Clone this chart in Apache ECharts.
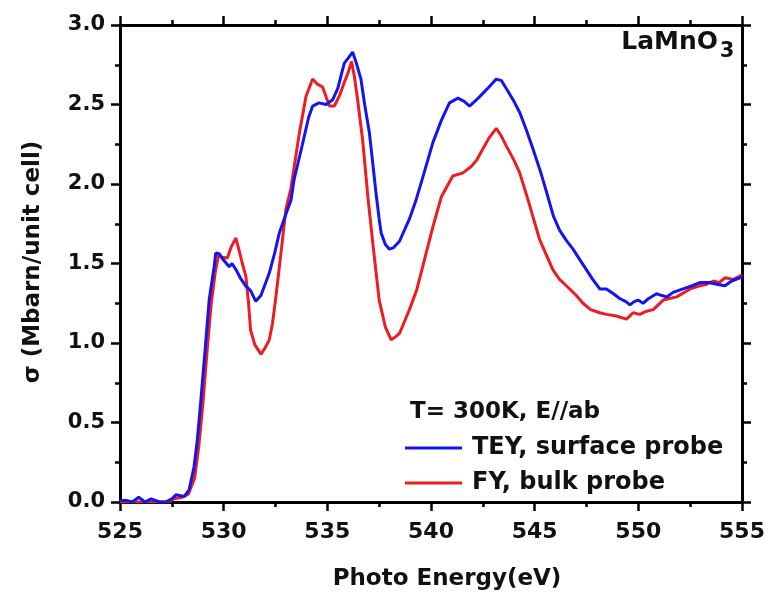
<!DOCTYPE html>
<html>
<head>
<meta charset="utf-8">
<script src="https://cdn.jsdelivr.net/npm/echarts@6/dist/echarts.min.js"></script>
<style>html,body{margin:0;padding:0;background:#fff}#c{width:768px;height:599px}</style>
</head>
<body>
<div id="c"></div>
<script>
const xTicks = [525, 530, 535, 540, 545, 550, 555];
const yTicks = ['0.0', '0.5', '1.0', '1.5', '2.0', '2.5', '3.0'];
const seriesNames = ['TEY, surface probe', 'FY, bulk probe'];

const teyX = [525.0,525.3,525.6,525.9,526.2,526.5,526.9,527.2,527.5,527.7,528.1,528.33,528.57,528.73,528.9,529.1,529.3,529.54,529.62,529.8,530.0,530.27,530.4,530.6,530.8,531.07,531.3,531.55,531.8,532.0,532.2,532.45,532.68,533.0,533.25,533.4,533.8,534.1,534.29,534.6,534.94,535.26,535.5,535.7,535.82,536.0,536.22,536.4,536.62,536.8,537.03,537.2,537.35,537.5,537.6,537.8,538.0,538.2,538.48,538.96,539.28,539.6,540.09,540.5,540.89,541.3,541.6,541.86,542.2,542.5,542.8,543.15,543.4,543.63,544.0,544.28,544.6,544.92,545.3,545.57,545.9,546.2,546.5,546.85,547.2,547.5,547.8,548.14,548.46,548.8,549.1,549.4,549.6,549.8,549.99,550.23,550.5,550.88,551.1,551.36,551.7,552.16,552.6,552.97,553.4,553.78,554.18,554.5,554.9,555.0];
const teyY = [0.01,0.01,0.0,0.03,0.0,0.02,0.0,0.0,0.02,0.045,0.035,0.075,0.22,0.39,0.64,0.95,1.27,1.48,1.567,1.56,1.52,1.48,1.50,1.46,1.41,1.357,1.33,1.262,1.30,1.37,1.44,1.56,1.69,1.81,1.90,2.03,2.25,2.42,2.49,2.51,2.50,2.53,2.60,2.70,2.76,2.79,2.83,2.76,2.66,2.50,2.32,2.12,1.94,1.78,1.69,1.62,1.59,1.60,1.64,1.78,1.90,2.04,2.26,2.40,2.51,2.54,2.52,2.49,2.53,2.57,2.61,2.66,2.65,2.60,2.52,2.45,2.34,2.22,2.07,1.95,1.80,1.71,1.65,1.59,1.52,1.46,1.40,1.34,1.34,1.31,1.28,1.26,1.24,1.26,1.27,1.25,1.28,1.31,1.30,1.29,1.32,1.34,1.36,1.38,1.38,1.37,1.36,1.39,1.41,1.42];

const fyX = [525.0,525.5,526.0,526.5,527.0,527.3,527.6,528.0,528.3,528.6,528.8,529.0,529.2,529.4,529.6,529.75,529.9,530.18,530.35,530.59,530.75,530.9,531.07,531.2,531.3,531.5,531.8,532.0,532.2,532.35,532.5,532.75,533.0,533.24,533.45,533.65,533.97,534.29,534.5,534.77,535.1,535.34,535.6,535.82,536.0,536.17,536.3,536.46,536.7,536.97,537.2,537.5,537.8,538.08,538.3,538.48,538.96,539.3,539.6,540.09,540.5,541.05,541.54,541.94,542.2,542.5,542.8,543.15,543.4,543.63,544.0,544.28,544.68,545.24,545.88,546.2,546.53,547.0,547.33,547.7,548.14,548.46,548.94,549.43,549.75,550.07,550.4,550.72,551.2,551.5,551.85,552.5,552.97,553.3,553.62,553.9,554.18,554.58,554.9,555.0];
const fyY = [0.0,0.0,0.0,0.0,0.0,0.0,0.02,0.03,0.05,0.15,0.35,0.62,0.95,1.25,1.45,1.55,1.54,1.535,1.60,1.66,1.58,1.50,1.42,1.25,1.08,0.99,0.93,0.97,1.02,1.12,1.27,1.55,1.84,1.97,2.15,2.32,2.55,2.66,2.63,2.61,2.49,2.49,2.56,2.64,2.70,2.77,2.68,2.53,2.28,1.90,1.62,1.27,1.10,1.02,1.04,1.06,1.21,1.33,1.48,1.73,1.92,2.05,2.07,2.11,2.15,2.22,2.29,2.35,2.30,2.24,2.15,2.07,1.90,1.65,1.46,1.40,1.36,1.30,1.25,1.21,1.19,1.18,1.17,1.15,1.19,1.18,1.20,1.21,1.27,1.28,1.29,1.34,1.36,1.37,1.39,1.38,1.41,1.40,1.42,1.43];

const FONT = '"DejaVu Sans", Arial, sans-serif';
const BLUE = '#1414f0';
const RED = '#ee1c22';

const pairs = (xs, ys) => xs.map((x, i) => [x, ys[i]]);

function axisCommon(showLabel, isX) {
  return {
    type: 'value',
    axisLine: { show: true, onZero: false, lineStyle: { color: '#000', width: 3 } },
    axisTick: { show: true, inside: false, length: 9, lineStyle: { color: '#000', width: 2.5 } },
    minorTick: { show: true, splitNumber: 2, length: 5, lineStyle: { color: '#000', width: 2.5 } },
    splitLine: { show: false },
    minorSplitLine: { show: false },
    axisLabel: showLabel ? {
      show: true, color: '#111', fontFamily: FONT, fontWeight: 'bold', fontSize: isX ? 22 : 21,
      margin: isX ? 19 : 15,
      formatter: isX ? (v => String(v)) : (v => yTicks[Math.round(v * 2)])
    } : { show: false }
  };
}

const chart = echarts.init(document.getElementById('c'), null, { renderer: 'canvas' });
chart.setOption({
  animation: false,
  backgroundColor: '#fff',
  grid: { left: 120, right: 26, top: 25, bottom: 97, containLabel: false },
  xAxis: [
    Object.assign(axisCommon(true, true), { position: 'bottom', min: xTicks[0], max: xTicks[xTicks.length - 1], interval: 5 }),
    Object.assign(axisCommon(false, true), { position: 'top', min: xTicks[0], max: xTicks[xTicks.length - 1], interval: 5 })
  ],
  yAxis: [
    Object.assign(axisCommon(true, false), { position: 'left', min: 0, max: 3, interval: 0.5 }),
    Object.assign(axisCommon(false, false), { position: 'right', min: 0, max: 3, interval: 0.5 })
  ],
  legend: {
    data: seriesNames,
    orient: 'vertical',
    left: 405, top: 435,
    padding: 0,
    itemGap: 9,
    itemWidth: 57, itemHeight: 3,
    icon: 'rect',
    textStyle: { fontFamily: FONT, fontWeight: 'bold', fontSize: 24, color: '#111', lineHeight: 26, padding: [0, 0, 0, 5] }
  },
  series: [
    { name: seriesNames[1], type: 'line', data: pairs(fyX, fyY), showSymbol: false, symbol: 'none', z: 2,
      lineStyle: { color: RED, width: 3 }, itemStyle: { color: RED } },
    { name: seriesNames[0], type: 'line', data: pairs(teyX, teyY), showSymbol: false, symbol: 'none', z: 3,
      lineStyle: { color: BLUE, width: 3 }, itemStyle: { color: BLUE } }
  ],
  graphic: [
    { type: 'text', x: 447, y: 579, style: { text: 'Photo Energy(eV)', font: 'bold 23px ' + FONT, fill: '#111', align: 'center', verticalAlign: 'middle' } },
    { type: 'text', x: 33, y: 262, rotation: Math.PI / 2, style: { text: 'σ (Mbarn/unit cell)', font: 'bold 23px ' + FONT, fill: '#111', align: 'center', verticalAlign: 'middle' } },
    { type: 'text', x: 410, y: 412, style: { text: 'T= 300K, E//ab', font: 'bold 23px ' + FONT, fill: '#111', align: 'left', verticalAlign: 'middle' } },
    { type: 'text', x: 718, y: 42, style: { text: 'LaMnO', font: 'bold 25px ' + FONT, fill: '#111', align: 'right', verticalAlign: 'middle' } },
    { type: 'text', x: 727, y: 52, style: { text: '3', font: 'bold 21px ' + FONT, fill: '#111', align: 'center', verticalAlign: 'middle' } }
  ]
});
</script>
</body>
</html>
